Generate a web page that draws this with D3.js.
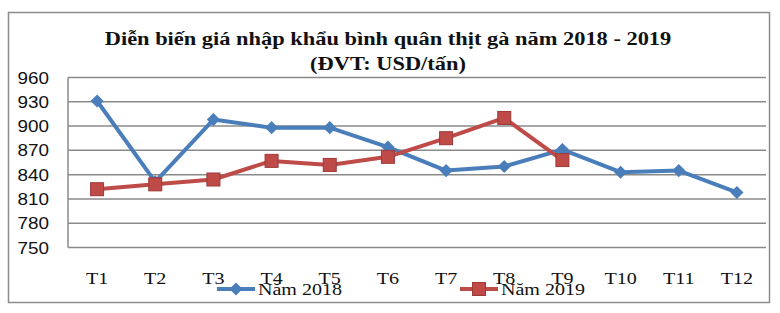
<!DOCTYPE html>
<html>
<head>
<meta charset="utf-8">
<script src="https://cdn.jsdelivr.net/npm/d3@7"></script>
<style>
  body { margin: 0; background: #fff; }
</style>
</head>
<body>
<div id="chart"></div>
<script>
// Data
const months = ["T1", "T2", "T3", "T4", "T5", "T6", "T7", "T8", "T9", "T10", "T11", "T12"];
const values2018 = [931, 831, 908, 898, 898, 874, 845, 850, 871, 843, 845, 818];
const values2019 = [822, 828, 834, 857, 852, 862, 885, 910, 858];
const yTicks = [750, 780, 810, 840, 870, 900, 930, 960];
const seriesNames = ["Năm 2018", "Năm 2019"];

const W = 780, H = 313;
const plot = {left: 68, right: 766, top: 77.5, bottom: 247.5};
const blue = "#4A7EBB", red = "#BE4B48";
const stretch = 1.18;  // text in the picture is a bit wide

const svg = d3.select("#chart").append("svg")
  .attr("width", W)
  .attr("height", H);

// outer frame
svg.append("rect")
  .attr("x", 8.5).attr("y", 12.5)
  .attr("width", 761).attr("height", 290)
  .attr("fill", "#fff")
  .attr("stroke", "#8c8c8c")
  .attr("stroke-width", 1.5);

const x = d3.scaleBand()
  .domain(months)
  .range([plot.left, plot.right]);

const y = d3.scaleLinear()
  .domain([750, 960])
  .range([plot.bottom, plot.top]);

// helper for horizontally stretched text
function wideText(g, tx, ty, str, anchor) {
  return g.append("text")
    .attr("transform", `translate(${tx},${ty}) scale(${stretch},1)`)
    .attr("text-anchor", anchor)
    .text(str);
}

// title
const title = svg.append("g")
  .attr("font-family", "'Liberation Serif', 'Times New Roman', serif")
  .attr("font-weight", "bold")
  .attr("font-size", 19)
  .attr("fill", "#111");
wideText(title, 388, 45, "Diễn biến giá nhập khẩu bình quân thịt gà năm 2018 - 2019", "middle");
wideText(title, 388, 70, "(ĐVT: USD/tấn)", "middle");

// grid lines
svg.append("g")
  .selectAll("line")
  .data(yTicks)
  .join("line")
    .attr("x1", plot.left)
    .attr("x2", plot.right)
    .attr("y1", d => y(d))
    .attr("y2", d => y(d))
    .attr("stroke", "#8a8a8a")
    .attr("stroke-width", 1.5);

// left axis line
svg.append("line")
  .attr("x1", plot.left).attr("x2", plot.left)
  .attr("y1", plot.top).attr("y2", plot.bottom)
  .attr("stroke", "#8a8a8a")
  .attr("stroke-width", 1.5);

// y tick labels
const yLab = svg.append("g")
  .attr("font-family", "'Liberation Sans', Arial, sans-serif")
  .attr("font-size", 16)
  .attr("fill", "#111");
yTicks.forEach(t => {
  wideText(yLab, 49, y(t) + 6, t, "end");
});

// x tick labels
const xLab = svg.append("g")
  .attr("font-family", "'Liberation Serif', 'Times New Roman', serif")
  .attr("font-size", 17)
  .attr("fill", "#111");
months.forEach(m => {
  wideText(xLab, x(m) + x.bandwidth() / 2, 284, m, "middle");
});

const line = d3.line()
  .x((d, i) => x(months[i]) + x.bandwidth() / 2)
  .y(d => y(d));

// 2018 series
svg.append("path")
  .datum(values2018)
  .attr("d", line)
  .attr("fill", "none")
  .attr("stroke", blue)
  .attr("stroke-width", 4)
  .attr("stroke-linejoin", "round");

// 2019 series
svg.append("path")
  .datum(values2019)
  .attr("d", line)
  .attr("fill", "none")
  .attr("stroke", red)
  .attr("stroke-width", 4)
  .attr("stroke-linejoin", "round");

const diamond = d3.symbol().type(d3.symbolDiamond2).size(110);

svg.append("g")
  .selectAll("path")
  .data(values2018)
  .join("path")
    .attr("d", diamond)
    .attr("transform", (d, i) => `translate(${x(months[i]) + x.bandwidth() / 2},${y(d)})`)
    .attr("fill", blue);

svg.append("g")
  .selectAll("rect")
  .data(values2019)
  .join("rect")
    .attr("x", (d, i) => x(months[i]) + x.bandwidth() / 2 - 6.5)
    .attr("y", d => y(d) - 6.5)
    .attr("width", 13)
    .attr("height", 13)
    .attr("fill", red)
    .attr("stroke", "#9c3a37")
    .attr("stroke-width", 1);

// legend
const legend = svg.append("g")
  .attr("font-family", "'Liberation Serif', 'Times New Roman', serif")
  .attr("font-size", 17)
  .attr("fill", "#111");

const legendItems = [
  {name: seriesNames[0], color: blue, x0: 217, marker: "diamond"},
  {name: seriesNames[1], color: red, x0: 460, marker: "square"}
];
legendItems.forEach(it => {
  const ly = 289;
  legend.append("line")
    .attr("x1", it.x0).attr("x2", it.x0 + 38)
    .attr("y1", ly).attr("y2", ly)
    .attr("stroke", it.color)
    .attr("stroke-width", 4);
  if (it.marker === "diamond") {
    legend.append("path")
      .attr("d", diamond)
      .attr("transform", `translate(${it.x0 + 19},${ly})`)
      .attr("fill", it.color);
  } else {
    legend.append("rect")
      .attr("x", it.x0 + 19 - 6.5).attr("y", ly - 6.5)
      .attr("width", 13).attr("height", 13)
      .attr("fill", it.color)
      .attr("stroke", "#9c3a37");
  }
  wideText(legend, it.x0 + 41, 295, it.name, "start");
});
</script>
</body>
</html>
